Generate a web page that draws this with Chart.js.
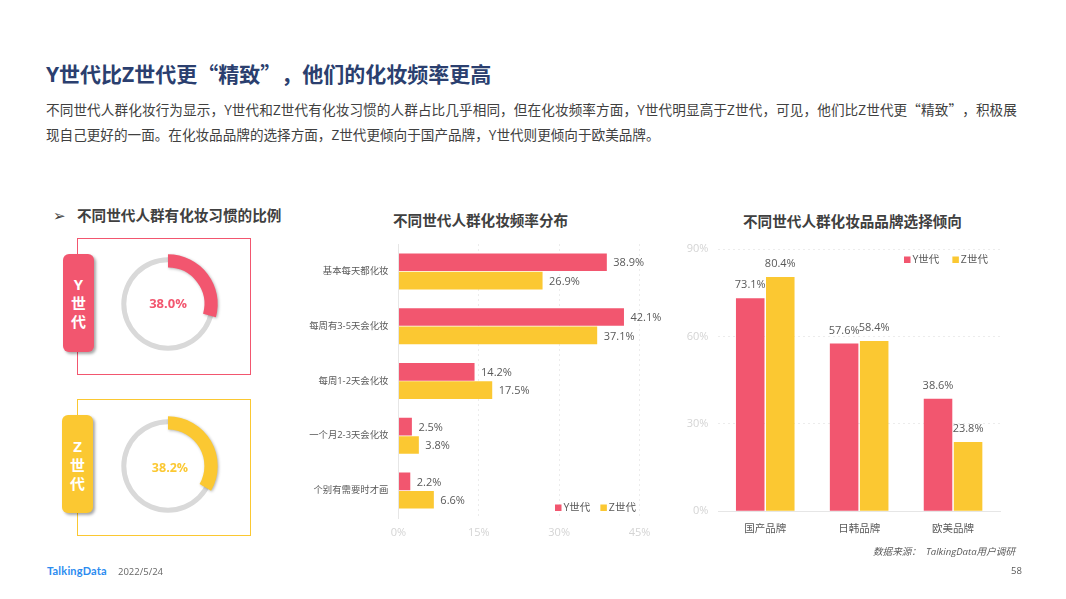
<!DOCTYPE html>
<html lang="zh">
<head>
<meta charset="utf-8">
<title>Y世代比Z世代更“精致”</title>
<script src="https://cdn.jsdelivr.net/npm/chart.js@4"></script>
<style>
html, body { margin: 0; padding: 0; background: #fff; }
#page { position: relative; width: 1066px; height: 599px; overflow: hidden; font-family: "Open Sans", "Noto Sans CJK SC", sans-serif; text-spacing-trim: space-all; }
#page > * { position: absolute; }
.t { white-space: nowrap; line-height: 1; color: #404040; }
.q { font-family: "Noto Sans CJK SC", sans-serif; }
.head { font-weight: 700; font-size: 14.6px; }
.box { border: 1.5px solid; box-sizing: border-box; }
.tag { border-radius: 6px; box-shadow: 2px 2px 3px rgba(0,0,0,.35); color: #fff; font-weight: 700; font-size: 15px; line-height: 18.5px; text-align: center; box-sizing: border-box; }
canvas { display: block; }
</style>
</head>
<body>
<div id="page">
  <div class="t" style="left:46px;top:63px;font-size:21px;font-weight:700;color:#2b3f6f">Y世代比Z世代更<span class="q">“</span>精致<span class="q">”，</span>他们的化妆频率更高</div>
  <div class="t" style="left:46px;top:102.5px;font-size:13.6px;letter-spacing:.11px">不同世代人群化妆行为显示，Y世代和Z世代有化妆习惯的人群占比几乎相同，但在化妆频率方面，Y世代明显高于Z世代，可见，他们比Z世代更<span class="q">“</span>精致<span class="q">”，</span>积极展</div>
  <div class="t" style="left:46px;top:128px;font-size:13.6px">现自己更好的一面。在化妆品品牌的选择方面，Z世代更倾向于国产品牌，Y世代则更倾向于欧美品牌。</div>

  <div class="t" style="left:53px;top:208px;font-size:15px">➢</div>
  <div class="t head" style="left:77px;top:208px">不同世代人群有化妆习惯的比例</div>
  <div class="t head" style="left:393px;top:213px">不同世代人群化妆频率分布</div>
  <div class="t head" style="left:743px;top:214px">不同世代人群化妆品品牌选择倾向</div>

  <div class="box" style="left:77px;top:238px;width:174px;height:137px;border-color:#f2566f"></div>
  <div class="box" style="left:77px;top:399px;width:174px;height:137px;border-color:#fbc832"></div>
  <div class="tag" style="left:63px;top:254px;width:31px;height:98px;padding-top:21px;background:#f2566f">Y<br>世<br>代</div>
  <div class="tag" style="left:62px;top:415px;width:31px;height:98px;padding-top:22px;background:#fbc832">Z<br>世<br>代</div>

  <canvas id="trackY" width="120" height="120" style="left:108px;top:244px"></canvas>
  <canvas id="ringY" width="120" height="120" style="left:108px;top:244px"></canvas>
  <canvas id="trackZ" width="120" height="120" style="left:108px;top:406px"></canvas>
  <canvas id="ringZ" width="120" height="120" style="left:108px;top:406px"></canvas>
  <div id="pctY" class="t" style="left:118px;width:100px;text-align:center;top:297px;font-size:13px;font-weight:700;color:#f2566f"></div>
  <div id="pctZ" class="t" style="left:120px;width:100px;text-align:center;top:462px;font-size:12.5px;font-weight:700;color:#fbc832"></div>

  <canvas id="freq" width="370" height="350" style="left:300px;top:200px"></canvas>
  <canvas id="brand" width="370" height="350" style="left:670px;top:200px"></canvas>

  <div class="t" style="left:873px;top:547px;font-size:9.6px;font-style:italic;color:#595959">数据来源：&nbsp;&nbsp;TalkingData用户调研</div>
  <div class="t" style="left:47px;top:565px;font-family:Lato,sans-serif;font-size:11px;font-weight:700;letter-spacing:.2px;color:#2b8cf0">TalkingData</div>
  <div class="t" style="left:118px;top:567px;font-size:9.5px;color:#666">2022/5/24</div>
  <div class="t" style="left:1011px;top:566px;font-size:9.5px;color:#595959">58</div>
</div>

<script>
const seriesNames = ['Y世代', 'Z世代'];
const pink = '#f2566f';
const yellow = '#fbc832';

// printed shares of people with a make-up habit
const habitY = 38.0;
const habitZ = 38.2;
const arcY = 29.3;
const arcZ = 33.3;

const freqLabels = ['基本每天都化妆', '每周有3-5天会化妆', '每周1-2天会化妆', '一个月2-3天会化妆', '个别有需要时才画'];
const freqY = [38.9, 42.1, 14.2, 2.5, 2.2];
const freqZ = [26.9, 37.1, 17.5, 3.8, 6.6];
const freqTicks = [0, 15, 30, 45];

const brandLabels = ['国产品牌', '日韩品牌', '欧美品牌'];
const brandY = [73.1, 57.6, 38.6];
const brandZ = [80.4, 58.4, 23.8];
const brandTicks = [0, 30, 60, 90];

const fontFamily = '"Open Sans", "Noto Sans CJK SC", sans-serif';
const textColor = '#595959';
const faintColor = '#d4d4d4';
const gridColor = '#ececec';

Chart.defaults.font.family = fontFamily;
Chart.defaults.animation = false;
Chart.defaults.responsive = false;

document.getElementById('pctY').innerText = habitY.toFixed(1) + '%';
document.getElementById('pctZ').innerText = habitZ.toFixed(1) + '%';

const valueLabels = {
    id: 'valueLabels',
    afterDatasetsDraw(chart) {
        const horizontal = chart.options.indexAxis === 'y';
        const ctx = chart.ctx;
        ctx.save();
        ctx.font = '11px ' + fontFamily;
        ctx.fillStyle = textColor;
        ctx.textBaseline = 'middle';
        chart.data.datasets.forEach((ds, i) => {
            chart.getDatasetMeta(i).data.forEach((bar, j) => {
                const text = ds.data[j].toFixed(1) + '%';
                if (horizontal) {
                    ctx.textAlign = 'left';
                    ctx.fillText(text, bar.x + 6.5, bar.y + 1);
                } else {
                    ctx.textAlign = 'center';
                    ctx.fillText(text, bar.x, bar.y - 13);
                }
            });
        });
        ctx.restore();
    }
};

// legend sits inside the plot, the built-in one can not go there
const insideLegend = {
    id: 'insideLegend',
    afterDraw(chart, args, opts) {
        const ctx = chart.ctx;
        ctx.save();
        ctx.font = '10.5px ' + fontFamily;
        ctx.textBaseline = 'middle';
        ctx.textAlign = 'left';
        let x = opts.left;
        chart.data.datasets.forEach(ds => {
            ctx.fillStyle = ds.backgroundColor;
            ctx.fillRect(x, opts.middle - 3.5, 6.5, 6.5);
            ctx.fillStyle = textColor;
            ctx.fillText(ds.label, x + 8.5, opts.middle);
            x += 8.5 + ctx.measureText(ds.label).width + opts.gap;
        });
        ctx.restore();
    }
};

const arcShadow = {
    id: 'arcShadow',
    beforeDatasetsDraw(chart) {
        const ctx = chart.ctx;
        ctx.save();
        ctx.shadowColor = 'rgba(0,0,0,.3)';
        ctx.shadowBlur = 3;
        ctx.shadowOffsetX = 1;
        ctx.shadowOffsetY = 1;
    },
    afterDatasetsDraw(chart) {
        chart.ctx.restore();
    }
};

function barDatasets(y, z, barPct, catPct) {
    return [
        { label: seriesNames[0], data: y, backgroundColor: pink, barPercentage: barPct, categoryPercentage: catPct },
        { label: seriesNames[1], data: z, backgroundColor: yellow, barPercentage: barPct, categoryPercentage: catPct }
    ];
}

function setTicks(list) {
    return scale => { scale.ticks = list.map(v => ({ value: v })); };
}

new Chart(document.getElementById('freq'), {
    type: 'bar',
    data: { labels: freqLabels, datasets: barDatasets(freqY, freqZ, 0.96, 0.67) },
    plugins: [valueLabels, insideLegend],
    options: {
        indexAxis: 'y',
        layout: { padding: { top: 44, right: 30.5, bottom: 0, left: 0 } },
        plugins: {
            legend: { display: false },
            insideLegend: { left: 255, middle: 308, gap: 10 }
        },
        scales: {
            x: {
                min: 0, max: 45,
                afterBuildTicks: setTicks(freqTicks),
                afterFit(s) { s.height = 32; },
                grid: { color: gridColor, drawTicks: false },
                border: { display: false, dash: [2, 3] },
                ticks: { color: faintColor, padding: 8, font: { size: 11 }, callback: v => v + '%' }
            },
            y: {
                afterFit(s) { s.width = 98.5; },
                grid: { display: false, drawTicks: false },
                border: { color: '#e6e6e6' },
                ticks: { color: textColor, padding: 10, font: { size: 9.4 } }
            }
        }
    }
});

new Chart(document.getElementById('brand'), {
    type: 'bar',
    data: { labels: brandLabels, datasets: barDatasets(brandY, brandZ, 0.95, 0.64) },
    plugins: [valueLabels, insideLegend],
    options: {
        layout: { padding: { top: 49, right: 40, bottom: 0, left: 0 } },
        plugins: {
            legend: { display: false },
            insideLegend: { left: 234, middle: 60, gap: 13 }
        },
        scales: {
            x: {
                afterFit(s) { s.height = 38.7; },
                grid: { display: false, drawTicks: false },
                border: { color: '#e6e6e6' },
                ticks: { color: textColor, padding: 11, font: { size: 10.5 } }
            },
            y: {
                min: 0, max: 90,
                afterBuildTicks: setTicks(brandTicks),
                afterFit(s) { s.width = 48.3; },
                grid: { color: gridColor, drawTicks: false },
                border: { display: false, dash: [2, 3] },
                ticks: { color: faintColor, padding: 10, font: { size: 11 }, callback: v => v + '%' }
            }
        }
    }
});

function drawTrack(id) {
    new Chart(document.getElementById(id), {
        type: 'doughnut',
        data: { datasets: [{ data: [100], backgroundColor: '#d9d9d9', borderWidth: 0 }] },
        options: { radius: 46.7, cutout: '89.3%', plugins: { legend: { display: false }, tooltip: { enabled: false } } }
    });
}

function drawRing(id, share, color) {
    new Chart(document.getElementById(id), {
        type: 'doughnut',
        data: { datasets: [{ data: [share, 100 - share], backgroundColor: [color, 'transparent'], borderWidth: 0 }] },
        plugins: [arcShadow],
        options: { radius: 49.7, cutout: '73.2%', plugins: { legend: { display: false }, tooltip: { enabled: false } } }
    });
}

drawTrack('trackY');
drawRing('ringY', arcY, pink);
drawTrack('trackZ');
drawRing('ringZ', arcZ, yellow);
</script>
</body>
</html>
